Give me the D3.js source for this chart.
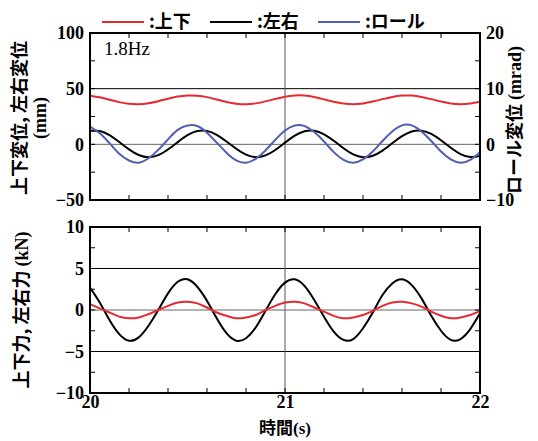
<!DOCTYPE html>
<html>
<head>
<meta charset="utf-8">
<script src="https://cdn.jsdelivr.net/npm/d3@7"></script>
<style>
  body { margin: 0; background: #fff; }
  .num { font-family: "Liberation Serif", serif; font-weight: bold; font-size: 18px; }
  .jp { font-family: "Noto Sans CJK JP", sans-serif; font-weight: bold; }
  .ser { font-family: "Liberation Serif", serif; font-weight: bold; }
</style>
</head>
<body>
<div id="chart"></div>
<script>
// time samples (s)
const times = [20.00, 20.05, 20.10, 20.15, 20.20, 20.25, 20.30, 20.35, 20.40, 20.45,
  20.50, 20.55, 20.60, 20.65, 20.70, 20.75, 20.80, 20.85, 20.90, 20.95,
  21.00, 21.05, 21.10, 21.15, 21.20, 21.25, 21.30, 21.35, 21.40, 21.45,
  21.50, 21.55, 21.60, 21.65, 21.70, 21.75, 21.80, 21.85, 21.90, 21.95, 22.00];

// top panel: displacement (mm), roll (mrad)
const vertDisp = [43.7, 42.2, 40.1, 37.9, 36.4, 36.0, 36.9, 38.7, 41.0, 42.9,
  43.9, 43.7, 42.4, 40.3, 38.1, 36.5, 36.0, 36.8, 38.6, 40.8,
  42.8, 43.9, 43.8, 42.5, 40.4, 38.2, 36.6, 36.0, 36.7, 38.4,
  40.6, 42.6, 43.8, 43.8, 42.6, 40.6, 38.4, 36.7, 36.0, 36.6, 38.2];
const latDisp = [12.1, 12.0, 8.3, 2.1, -4.5, -9.6, -11.5, -9.7, -4.6, 2.0,
  8.2, 11.9, 12.1, 8.6, 2.6, -4.0, -9.3, -11.5, -9.9, -5.1,
  1.5, 7.8, 11.8, 12.2, 9.0, 3.2, -3.5, -9.0, -11.5, -10.2,
  -5.6, 1.0, 7.3, 11.6, 12.3, 9.4, 3.7, -3.1, -8.7, -11.4, -10.4];
const rollDisp = [3.2, 2.0, 0.2, -1.7, -2.9, -3.3, -2.5, -1.0, 0.9, 2.6,
  3.4, 3.3, 2.1, 0.3, -1.5, -2.9, -3.3, -2.6, -1.1, 0.8,
  2.5, 3.4, 3.3, 2.2, 0.5, -1.4, -2.8, -3.3, -2.7, -1.3,
  0.6, 2.3, 3.4, 3.4, 2.3, 0.6, -1.3, -2.7, -3.3, -2.8, -1.4];

// bottom panel: force (kN)
const vertForce = [0.7, 0.2, -0.3, -0.8, -1.0, -0.9, -0.5, 0.0, 0.5, 0.9,
  1.0, 0.8, 0.3, -0.3, -0.7, -1.0, -0.9, -0.6, 0.0, 0.5,
  0.9, 1.0, 0.8, 0.3, -0.2, -0.7, -1.0, -0.9, -0.6, -0.1,
  0.5, 0.9, 1.0, 0.8, 0.4, -0.2, -0.7, -1.0, -0.9, -0.6, -0.1];
const latForce = [2.7, 0.9, -1.2, -2.9, -3.7, -3.3, -1.9, 0.0, 2.0, 3.4,
  3.7, 2.8, 1.1, -1.0, -2.8, -3.7, -3.4, -2.1, -0.1, 1.9,
  3.3, 3.7, 2.9, 1.2, -0.8, -2.6, -3.6, -3.5, -2.2, -0.3,
  1.8, 3.2, 3.7, 3.0, 1.4, -0.7, -2.5, -3.6, -3.5, -2.3, -0.4];

const xTicks = [20, 21, 22];
const dispTicks = [-50, 0, 50, 100];
const rollTicks = [-10, 0, 10, 20];
const forceTicks = [-10, -5, 0, 5, 10];

const RED = "#e62a2f", BLACK = "#000", BLUE = "#5060b0";

const svg = d3.select("#chart").append("svg")
    .attr("width", 538)
    .attr("height", 441);

const left = 90, right = 480;
const x = d3.scaleLinear().domain([20, 22]).range([left, right]);

const yDisp = d3.scaleLinear().domain([-50, 100]).range([200, 33]);
const yRoll = d3.scaleLinear().domain([-10, 20]).range([200, 33]);
const yForce = d3.scaleLinear().domain([-10, 10]).range([393, 227]);

const minus = d => d < 0 ? "\u2212" + Math.abs(d) : d;

function line(ys, vals) {
    return d3.line()
        .x((d, i) => x(times[i]))
        .y(d => ys(d))
        .curve(d3.curveNatural)(vals);
}

function frame(ys, grid, tickStep, ys2, tickStep2) {
    const [y0, y1] = ys.range();
    const g = svg.append("g");
    // grid
    grid.forEach(v => {
        g.append("line")
            .attr("x1", left).attr("x2", right)
            .attr("y1", ys(v)).attr("y2", ys(v))
            .attr("stroke", v === 0 ? "#666" : "#000")
            .attr("stroke-width", 1);
    });
    g.append("line")
        .attr("x1", x(21)).attr("x2", x(21))
        .attr("y1", y0).attr("y2", y1)
        .attr("stroke", "#555").attr("stroke-width", 1);

    // inward ticks
    const tl = 5;
    d3.range(20.2, 22, 0.2).forEach(t => {
        g.append("line").attr("x1", x(t)).attr("x2", x(t))
            .attr("y1", y0).attr("y2", y0 - tl).attr("stroke", "#000");
        g.append("line").attr("x1", x(t)).attr("x2", x(t))
            .attr("y1", y1).attr("y2", y1 + tl).attr("stroke", "#000");
    });
    const d = ys.domain();
    d3.range(d[0] + tickStep, d[1], tickStep).forEach(v => {
        g.append("line").attr("x1", left).attr("x2", left + tl)
            .attr("y1", ys(v)).attr("y2", ys(v)).attr("stroke", "#000");
    });
    const d2 = ys2.domain();
    d3.range(d2[0] + tickStep2, d2[1], tickStep2).forEach(v => {
        g.append("line").attr("x1", right).attr("x2", right - tl)
            .attr("y1", ys2(v)).attr("y2", ys2(v)).attr("stroke", "#000");
    });
    return g;
}

function border(ys) {
    const [y0, y1] = ys.range();
    svg.append("rect")
        .attr("x", left).attr("y", y1)
        .attr("width", right - left).attr("height", y0 - y1)
        .attr("fill", "none").attr("stroke", "#000").attr("stroke-width", 2);
}

function axisText(g) {
    g.select(".domain").remove();
    g.selectAll("text").attr("class", "num").attr("fill", "#000");
}

// ---- top panel
frame(yDisp, [0, 50], 25, yRoll, 5);
svg.append("path").attr("d", line(yDisp, vertDisp))
    .attr("fill", "none").attr("stroke", RED).attr("stroke-width", 2);
svg.append("path").attr("d", line(yDisp, latDisp))
    .attr("fill", "none").attr("stroke", BLACK).attr("stroke-width", 2);
svg.append("path").attr("d", line(yRoll, rollDisp))
    .attr("fill", "none").attr("stroke", BLUE).attr("stroke-width", 2);
border(yDisp);

svg.append("g").attr("transform", `translate(${left},0)`)
    .call(d3.axisLeft(yDisp).tickValues(dispTicks).tickSize(0).tickPadding(6).tickFormat(minus))
    .call(axisText);
svg.append("g").attr("transform", `translate(${right},0)`)
    .call(d3.axisRight(yRoll).tickValues(rollTicks).tickSize(0).tickPadding(6).tickFormat(minus))
    .call(axisText);

svg.append("text").attr("class", "num").attr("x", 104).attr("y", 55)
    .style("font-weight", "normal").style("font-size", "19px").text("1.8Hz");

// ---- bottom panel
frame(yForce, [-5, 0, 5], 2.5, yForce, 2.5);
svg.append("path").attr("d", line(yForce, latForce))
    .attr("fill", "none").attr("stroke", BLACK).attr("stroke-width", 2);
svg.append("path").attr("d", line(yForce, vertForce))
    .attr("fill", "none").attr("stroke", RED).attr("stroke-width", 2);
border(yForce);

svg.append("g").attr("transform", `translate(${left},0)`)
    .call(d3.axisLeft(yForce).tickValues(forceTicks).tickSize(0).tickPadding(6).tickFormat(minus))
    .call(axisText);
svg.append("g").attr("transform", `translate(0,393)`)
    .call(d3.axisBottom(x).tickValues(xTicks).tickSize(0).tickPadding(2).tickFormat(d3.format("d")))
    .call(axisText);

// axis titles
function title(tx, ty, rot, jp, unit, size) {
    const t = svg.append("text").attr("class", "jp")
        .attr("transform", `translate(${tx},${ty}) rotate(${rot})`)
        .attr("text-anchor", "middle").style("font-size", size + "px");
    t.append("tspan").text(jp);
    if (unit) t.append("tspan").attr("class", "ser").text(unit);
    return t;
}
title(26, 118, -90, "上下変位, 左右変位", null, 18);
title(46, 118, -90, "", "(mm)", 18);
title(521, 120, -90, "ロール変位 ", "(mrad)", 18);
title(28, 310, -90, "上下力, 左右力 ", "(kN)", 18);
title(x(21), 434, 0, "時間", "(s)", 17);

// legend
const legend = [
    { name: ":上下", color: RED, x: 102 },
    { name: ":左右", color: BLACK, x: 210 },
    { name: ":ロール", color: BLUE, x: 318 }
];
legend.forEach(l => {
    svg.append("line").attr("x1", l.x).attr("x2", l.x + 42)
        .attr("y1", 22).attr("y2", 22)
        .attr("stroke", l.color).attr("stroke-width", 2);
    svg.append("text").attr("class", "jp").attr("x", l.x + 47).attr("y", 28)
        .style("font-size", "18px").text(l.name);
});
</script>
</body>
</html>
